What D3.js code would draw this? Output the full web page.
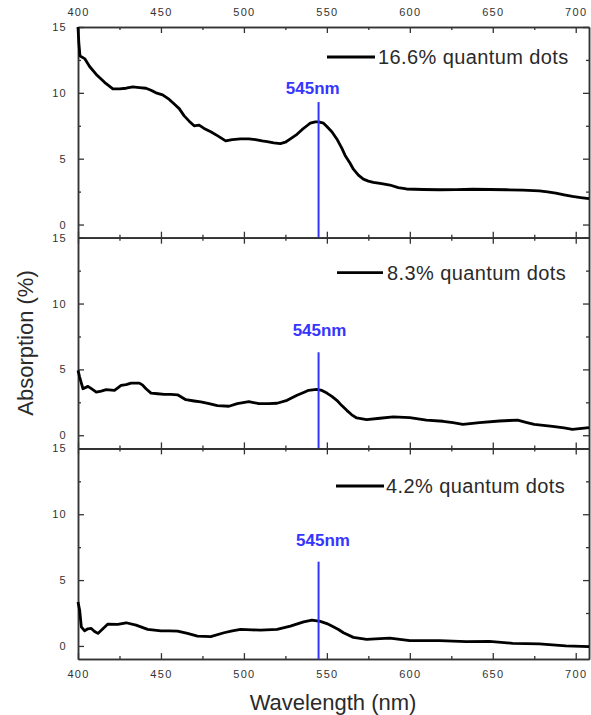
<!DOCTYPE html>
<html>
<head>
<meta charset="utf-8">
<script src="https://cdn.jsdelivr.net/npm/d3@7"></script>
<style>
  body { margin: 0; background: #fff; }
  text { font-family: "Liberation Sans", Arial, sans-serif; }
</style>
</head>
<body>
<div id="chart"></div>
<script>
// wavelength (nm) / absorption (%)
var wl166 = [400, 400.5, 401.2, 404, 407, 411, 416, 421, 425, 429, 433, 437, 441, 444, 447, 451, 455, 458, 461, 464, 467, 470, 473, 476, 480, 484, 489, 493, 498, 503, 507, 511, 514, 518, 522, 525, 528, 532, 535, 538, 540, 543, 545, 548, 550, 553, 556, 559, 561, 564, 566, 569, 572, 575, 578, 583, 588, 593, 598, 608, 618, 628, 638, 648, 658, 668, 678, 683, 688, 693, 698, 703, 708];
var abs166 = [15.0, 13.8, 12.8, 12.6, 12.0, 11.4, 10.8, 10.3, 10.3, 10.35, 10.45, 10.4, 10.35, 10.2, 10.0, 9.85, 9.5, 9.15, 8.8, 8.25, 7.85, 7.5, 7.55, 7.3, 7.05, 6.75, 6.35, 6.45, 6.5, 6.5, 6.45, 6.35, 6.3, 6.2, 6.15, 6.25, 6.5, 6.85, 7.2, 7.5, 7.7, 7.8, 7.8, 7.7, 7.45, 7.05, 6.5, 5.8, 5.25, 4.65, 4.2, 3.75, 3.45, 3.3, 3.2, 3.1, 3.0, 2.8, 2.7, 2.66, 2.64, 2.65, 2.68, 2.66, 2.64, 2.62, 2.56, 2.48, 2.38, 2.25, 2.13, 2.05, 1.97];

var wl83 = [400, 401, 403, 406, 408.5, 411, 414, 417, 422, 426, 429, 432, 437, 439, 441, 444, 448, 452, 456, 460, 465, 470, 474, 479, 484, 491, 496, 503, 509, 515, 520, 526, 532, 536, 539, 544, 547, 550, 553, 556, 559, 562, 565, 568, 574, 582, 590, 600, 610, 620, 626, 632, 642, 654, 660, 665, 670, 675, 686, 693, 698, 708];
var abs83 = [4.92, 4.42, 3.53, 3.71, 3.5, 3.28, 3.35, 3.46, 3.41, 3.79, 3.85, 3.96, 3.96, 3.8, 3.53, 3.2, 3.15, 3.1, 3.1, 3.07, 2.7, 2.6, 2.53, 2.4, 2.25, 2.2, 2.4, 2.55, 2.4, 2.4, 2.43, 2.65, 3.03, 3.25, 3.41, 3.48, 3.4, 3.2, 2.95, 2.65, 2.25, 1.89, 1.55, 1.31, 1.19, 1.29, 1.39, 1.34, 1.14, 1.06, 0.95, 0.83, 0.96, 1.08, 1.12, 1.14, 0.98, 0.83, 0.68, 0.55, 0.45, 0.58];

var wl42 = [400, 401, 402, 404, 406, 408, 410, 412, 415, 418, 424, 429, 435, 442, 446, 450, 455, 460, 466, 472, 480, 488, 493, 498, 505, 510, 520, 528, 536, 541, 546, 550, 553, 557, 560, 566, 574, 582, 588, 594, 600, 618, 634, 648, 662, 678, 694, 708];
var abs42 = [3.34, 2.71, 1.45, 1.15, 1.3, 1.33, 1.1, 0.95, 1.3, 1.66, 1.63, 1.76, 1.58, 1.26, 1.2, 1.15, 1.15, 1.13, 0.95, 0.75, 0.7, 1.0, 1.15, 1.26, 1.22, 1.2, 1.26, 1.51, 1.83, 1.96, 1.86, 1.7, 1.51, 1.25, 1.0, 0.65, 0.5, 0.55, 0.6, 0.5, 0.4, 0.4, 0.33, 0.35, 0.2, 0.15, 0.0, -0.05];

var seriesLabels = ["16.6% quantum dots", "8.3% quantum dots", "4.2% quantum dots"];
var xTicks = [400, 450, 500, 550, 600, 650, 700];
var xMinor = [425, 475, 525, 575, 625, 675];
var yTicks = [0, 5, 10, 15];
var yMinor = [2.5, 7.5, 12.5];

// 545 nm marker: line top and label height (in % units) per panel
var peakWl = 545;
var markerTop = [9.3, 6.3, 6.4];
var markerLabelY = [9.9, 7.5, 7.6];
var markerLabelX = [541.5, 545.6, 547.7];

var series = [
  { wl: wl166, abs: abs166 },
  { wl: wl83, abs: abs83 },
  { wl: wl42, abs: abs42 }
];

var width = 591, height = 715;
var left = 78, right = 589, top0 = 27, panelH = 210.7;
var frameColor = "#333", textColor = "#333", blue = "#3535ff";

// legend placement inside each panel (px)
var legendPos = [
  { x1: 327, x2: 375, tx: 378, y: 30 },
  { x1: 337, x2: 383, tx: 387, y: 35 },
  { x1: 336, x2: 384, tx: 386, y: 37.6 }
];

var svg = d3.select("#chart").append("svg")
    .attr("width", width)
    .attr("height", height);

var xScale = d3.scaleLinear().domain([400, 708]).range([left, right]);
var yScale = d3.scaleLinear().domain([-1, 15]).range([panelH, 0]);

var line = d3.line()
    .x(function(d) { return xScale(d[0]); })
    .y(function(d) { return yScale(d[1]); });

function styleAxis(g) {
  g.select(".domain").attr("stroke", frameColor).attr("stroke-width", 1.5);
  g.selectAll(".tick line").attr("stroke", frameColor).attr("stroke-width", 1.3);
  g.selectAll(".tick text")
      .attr("fill", textColor)
      .style("font-size", "11px")
      .style("letter-spacing", "1.3px");
}

series.forEach(function(s, i) {
  var panel = svg.append("g")
      .attr("transform", "translate(0," + (top0 + i * panelH) + ")");

  var isFirst = i === 0, isLast = i === series.length - 1;

  // top / bottom frame with inward ticks
  var topAxis = d3.axisTop(xScale).tickValues(xTicks).tickSizeInner(-6).tickSizeOuter(0)
      .tickPadding(11.3).tickFormat(isFirst ? d3.format("d") : "");
  panel.append("g").call(topAxis).call(styleAxis);
  panel.append("g").call(d3.axisTop(xScale).tickValues(xMinor).tickSizeInner(-3).tickSizeOuter(0).tickFormat(""))
      .call(styleAxis);

  var botAxis = d3.axisBottom(xScale).tickValues(xTicks).tickSizeInner(-6).tickSizeOuter(0)
      .tickPadding(11.2).tickFormat(isLast ? d3.format("d") : "");
  panel.append("g").attr("transform", "translate(0," + panelH + ")").call(botAxis).call(styleAxis);
  panel.append("g").attr("transform", "translate(0," + panelH + ")")
      .call(d3.axisBottom(xScale).tickValues(xMinor).tickSizeInner(-3).tickSizeOuter(0).tickFormat(""))
      .call(styleAxis);

  // left / right frame
  panel.append("g").attr("transform", "translate(" + left + ",0)")
      .call(d3.axisLeft(yScale).tickValues(yTicks).tickSizeInner(-6).tickSizeOuter(0).tickPadding(11))
      .call(styleAxis);
  panel.append("g").attr("transform", "translate(" + left + ",0)")
      .call(d3.axisLeft(yScale).tickValues(yMinor).tickSizeInner(-3).tickSizeOuter(0).tickFormat(""))
      .call(styleAxis);
  panel.append("g").attr("transform", "translate(" + right + ",0)")
      .call(d3.axisRight(yScale).tickValues(yTicks).tickSizeInner(-6).tickSizeOuter(0).tickFormat(""))
      .call(styleAxis);
  panel.append("g").attr("transform", "translate(" + right + ",0)")
      .call(d3.axisRight(yScale).tickValues(yMinor).tickSizeInner(-3).tickSizeOuter(0).tickFormat(""))
      .call(styleAxis);

  // spectrum
  panel.append("path")
      .datum(d3.zip(s.wl, s.abs))
      .attr("fill", "none")
      .attr("stroke", "#000")
      .attr("stroke-width", 2.8)
      .attr("stroke-linejoin", "round")
      .attr("d", line);

  // 545 nm marker
  panel.append("line")
      .attr("x1", xScale(peakWl)).attr("x2", xScale(peakWl))
      .attr("y1", yScale(markerTop[i])).attr("y2", panelH)
      .attr("stroke", blue)
      .attr("stroke-width", 2);
  panel.append("text")
      .attr("x", xScale(markerLabelX[i]))
      .attr("y", yScale(markerLabelY[i]))
      .attr("text-anchor", "middle")
      .attr("fill", blue)
      .style("font-size", "17px")
      .style("font-weight", "bold")
      .text(peakWl + "nm");

  // legend
  var lp = legendPos[i];
  panel.append("line")
      .attr("x1", lp.x1).attr("x2", lp.x2)
      .attr("y1", lp.y).attr("y2", lp.y)
      .attr("stroke", "#000")
      .attr("stroke-width", 2.8);
  panel.append("text")
      .attr("x", lp.tx)
      .attr("y", lp.y)
      .attr("dy", "0.36em")
      .attr("fill", "#2a2a2a")
      .style("font-size", "20px")
      .style("letter-spacing", "0.4px")
      .text(seriesLabels[i]);
});

// axis titles
svg.append("text")
    .attr("transform", "translate(33,343) rotate(-90)")
    .attr("text-anchor", "middle")
    .attr("fill", "#2a2a2a")
    .style("font-size", "22px")
    .text("Absorption (%)");

svg.append("text")
    .attr("x", 333)
    .attr("y", 710)
    .attr("text-anchor", "middle")
    .attr("fill", "#2a2a2a")
    .style("font-size", "22px")
    .text("Wavelength (nm)");
</script>
</body>
</html>
